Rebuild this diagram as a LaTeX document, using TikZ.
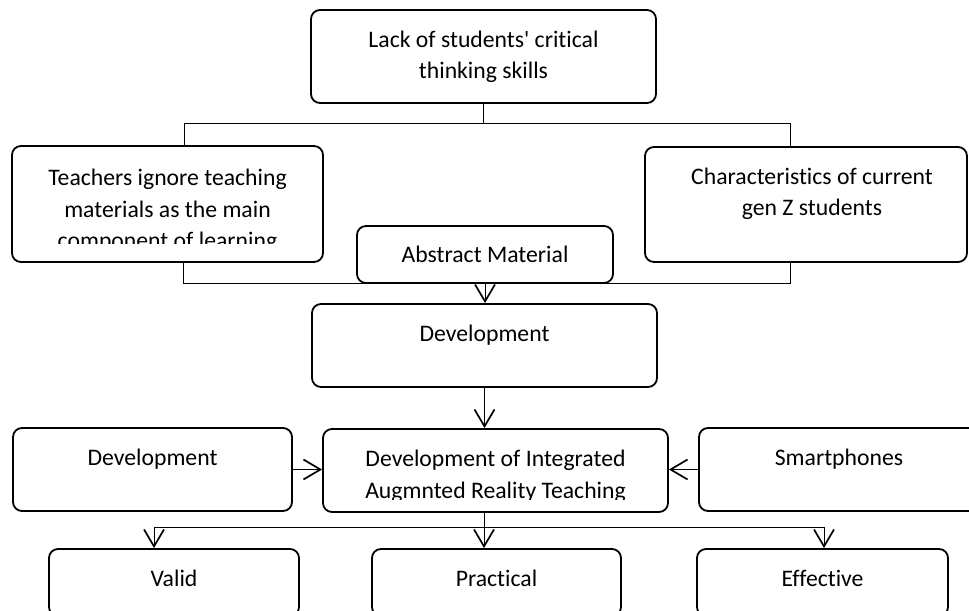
\documentclass[tikz,border=0pt]{standalone}
\usepackage{fontspec}
\setmainfont{Carlito}[Ligatures=NoCommon]
\usetikzlibrary{arrows.meta,positioning}

\tikzset{
  box/.style={draw, fill=white, rounded corners=9bp, line width=1.8bp, inner sep=0pt,
    align=center, text height=37bp},
  twolines/.style={text height=69bp},
  txt/.style={inner sep=0pt, align=center},
  link/.style={line width=1bp},
  arr/.style={link, -{Straight Barb[length=17bp, width=20bp, line width=1.7bp]}}
}

\begin{document}
\begin{tikzpicture}[x=1bp, y=-1bp, font=\fontsize{23.8}{32.1}\selectfont]
  \useasboundingbox (0,0) rectangle (969,611);
  \clip (0,0) rectangle (969,611);

  % boxes
  \node[box, twolines, minimum width=345bp, text depth=24bp] (lack) at (483.5,56.5) {Lack of students\textquotesingle{} critical\\thinking skills};
  \node[box, minimum width=311bp, text depth=79bp] (teach) at (167.5,204) {};
  \node[box, twolines, minimum width=322bp, text depth=46bp] (genz) at (806,204.5) {\hspace*{12bp}Characteristics of current\\\hspace*{12bp}gen Z students};
  \node[box, minimum width=345bp, text depth=46bp] (devel) at (484.5,345.5) {Development};
  \node[box, minimum width=279bp, text depth=46bp] (devleft) at (152.5,469.5) {Development};
  \node[box, minimum width=345bp, text depth=46bp] (ar) at (495.5,470.5) {};
  \node[box, minimum width=280bp, text depth=46bp] (phones) at (839,469.5) {Smartphones};
  \node[box, minimum width=250bp, text depth=30bp] (valid) at (174,582.5) {Valid};
  \node[box, minimum width=249bp, text depth=30bp] (practical) at (496.5,582.5) {Practical};
  \node[box, minimum width=251bp, text depth=30bp] (effective) at (822.5,582.5) {Effective};

  % text cut off at the bottom of its box
  \begin{scope}
    \clip (12,146) rectangle (323,244);
    \node[txt, anchor=base] (teach-text) at (167.5,249) {Teachers ignore teaching\\materials as the main\\component of learning};
  \end{scope}
  \begin{scope}
    \clip (323,429) rectangle (668,499);
    \node[txt, anchor=base] (ar-text) at (495.5,498) {Development of Integrated\\Augmnted Reality Teaching};
  \end{scope}

  % upper branches
  \coordinate (top-l) at (184,124);
  \coordinate (top-r) at (790,124);
  \draw[link] (lack.south) -- (lack.south |- top-l);
  \draw[link] (teach.north -| top-l) -- (top-l) -- (top-r) -- (top-r |- genz.north);

  \coordinate (mid-l) at (183,283);
  \coordinate (mid-r) at (790,283);
  \draw[link] (teach.south -| mid-l) -- (mid-l) -- (mid-r) -- (mid-r |- genz.south);
  \node[box, minimum width=256bp, text depth=20bp] (abstract) at (485,254.5) {Abstract Material};
  \draw[arr] (abstract.south) -- (abstract.south |- devel.north);

  % middle row
  \draw[arr] (devel.south) -- (devel.south |- ar.north);
  \draw[arr] (devleft.east) -- (devleft.east -| ar.west);
  \draw[arr] (phones.west) -- (phones.west -| ar.east);

  % results
  \coordinate (bot-l) at (154,527);
  \coordinate (bot-c) at (484,527);
  \coordinate (bot-r) at (824,527);
  \draw[link] (bot-c |- ar.south) -- (bot-c);
  \draw[link] (bot-l) -- (bot-r);
  \foreach \c/\n in {bot-l/valid,bot-c/practical,bot-r/effective} {
    \draw[arr] (\c) -- (\c |- \n.north);
  }
\end{tikzpicture}
\end{document}
